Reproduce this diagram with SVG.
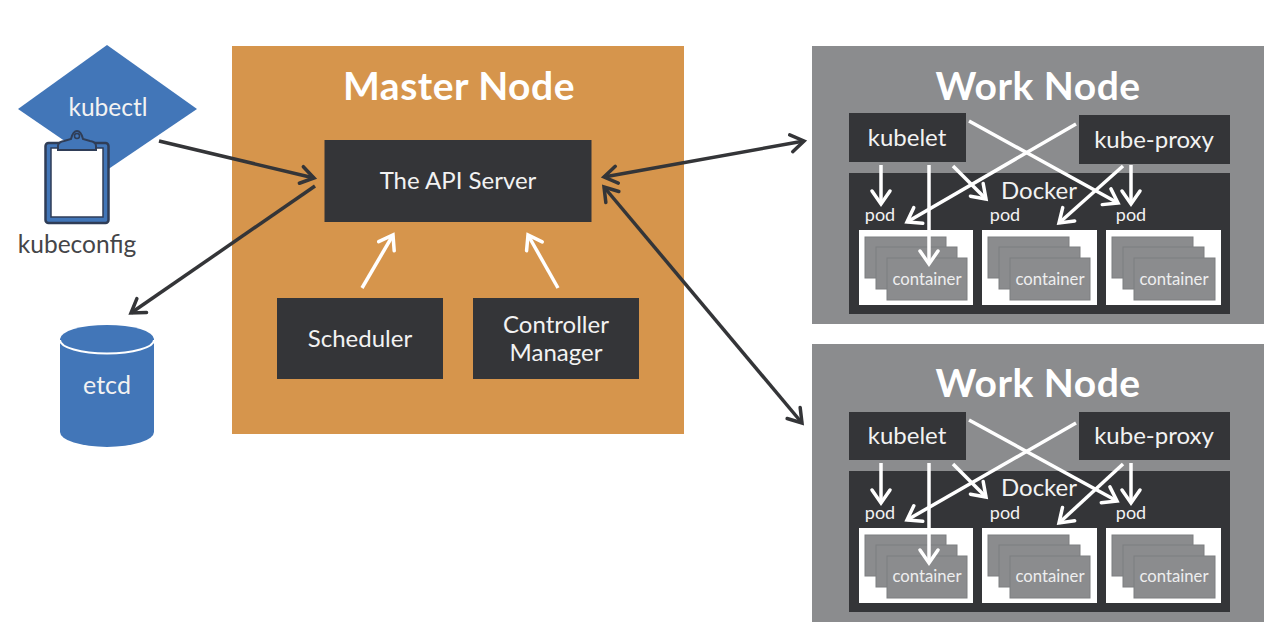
<svg xmlns="http://www.w3.org/2000/svg" width="1280" height="638" viewBox="0 0 1280 638">
<style>
text{font-family:Lato,"Open Sans","Liberation Sans",sans-serif;fill:#f2f2f2;text-anchor:middle}
.dark{fill:#343538}
.panel{fill:#8b8c8e}
.white{fill:#fff}
.c{fill:#8b8c8e;stroke:#7d7e80;stroke-width:1}
.blue{fill:#4276b8}
.title{font-weight:700;font-size:39px;letter-spacing:.5px;fill:#fff}
.lab{font-size:24px}
.w{font-size:24px}
.pod{font-size:18px}
.ct{font-size:16.700px;fill:#eee}
.ka{fill:none;stroke:#343538;stroke-width:3.500}
.wa{fill:none;stroke:#fff;stroke-width:3.500}
</style>
<defs>
<marker id="hd" markerUnits="userSpaceOnUse" markerWidth="24" markerHeight="24" refX="20" refY="12" orient="auto-start-reverse" viewBox="0 0 24 24"><path d="M7 3.500L20 12L7 20.500" fill="none" stroke="#343538" stroke-width="3.500" stroke-linecap="round"/></marker>
<marker id="hw" markerUnits="userSpaceOnUse" markerWidth="24" markerHeight="24" refX="20" refY="12" orient="auto" viewBox="0 0 24 24"><path d="M7 3L20 12L7 21" fill="none" stroke="#fff" stroke-width="3.500" stroke-linecap="round"/></marker>
</defs>
<rect width="1280" height="638" fill="#fff"/>

<g id="kubectl"><polygon class="blue" points="107,45 197,109 107,170 18,109"/><text x="108" y="116" style="font-size:24.500px">kubectl</text></g>
<g id="kubeconfig"><rect x="45.500" y="143" width="63" height="80" rx="3" class="blue" stroke="#2f3d57" stroke-width="2.500"/><rect x="51" y="148" width="52" height="69" fill="#fff" stroke="#2f3d57" stroke-width="1.500"/><path d="M58 150V146Q58 142 64 141L71 139Q73 131 77 131Q81 131 83 139L90 141Q96 142 96 146V150Z" class="blue" stroke="#2f3d57" stroke-width="2"/><circle cx="77" cy="136" r="2.500" fill="none" stroke="#2f3d57" stroke-width="1.500"/><text x="77" y="253" style="font-size:24.500px;fill:#444548">kubeconfig</text></g>
<g id="etcd"><path class="blue" d="M60 339A47 14 0 0 1 154 339V432A47 15 0 0 1 60 432Z"/><path d="M60 340A47 13.500 0 0 0 154 340" fill="none" stroke="#fff" stroke-width="2"/><text x="107" y="394" style="font-size:25px">etcd</text></g>

<g id="master-node"><rect x="232" y="46" width="452" height="388" fill="#d6954c"/><text class="title" x="459" y="100">Master Node</text></g>
<g id="api-server"><rect class="dark" x="324.500" y="140" width="267" height="82"/><text class="lab" x="458" y="189">The API Server</text></g>
<g id="scheduler"><rect class="dark" x="277" y="298" width="166" height="81"/><text class="lab" x="360" y="347">Scheduler</text></g>
<g id="controller-manager"><rect class="dark" x="473" y="298" width="166" height="81"/><text class="lab" x="556" y="333">Controller</text><text class="lab" x="556" y="361">Manager</text></g>

<g id="work-node-1"><rect class="panel" x="812" y="46" width="452" height="278"/><text class="title" x="1038" y="100">Work Node</text></g>
<g id="kubelet-1"><rect class="dark" x="849" y="113" width="117" height="49"/><text class="w" x="907" y="146">kubelet</text></g>
<g id="kube-proxy-1"><rect class="dark" x="1079" y="115" width="151" height="49"/><text class="w" x="1154" y="148">kube-proxy</text></g>
<g id="docker-1"><rect class="dark" x="849" y="173" width="381" height="141"/><text class="w" x="1039" y="199">Docker</text><text class="pod" x="880" y="221">pod</text><text class="pod" x="1005" y="221">pod</text><text class="pod" x="1131" y="221">pod</text></g>
<g id="pod-1a"><rect class="white" x="859" y="230" width="114" height="75"/><rect class="c" x="865" y="237" width="81" height="41"/><rect class="c" x="876" y="247" width="81" height="42"/><rect class="c" x="887" y="258" width="80" height="42"/><text class="ct" x="927" y="285">container</text></g>
<g id="pod-1b"><rect class="white" x="982" y="230" width="115" height="75"/><rect class="c" x="988" y="237" width="81" height="41"/><rect class="c" x="999" y="247" width="81" height="42"/><rect class="c" x="1010" y="258" width="80" height="42"/><text class="ct" x="1050" y="285">container</text></g>
<g id="pod-1c"><rect class="white" x="1106" y="230" width="115" height="75"/><rect class="c" x="1112" y="237" width="81" height="41"/><rect class="c" x="1123" y="247" width="81" height="42"/><rect class="c" x="1134" y="258" width="81" height="42"/><text class="ct" x="1174" y="285">container</text></g>

<g id="work-node-2"><rect class="panel" x="812" y="344" width="452" height="278"/><text class="title" x="1038" y="397">Work Node</text></g>
<g id="kubelet-2"><rect class="dark" x="849" y="412" width="117" height="48"/><text class="w" x="907" y="444">kubelet</text></g>
<g id="kube-proxy-2"><rect class="dark" x="1079" y="412" width="151" height="48"/><text class="w" x="1154" y="444">kube-proxy</text></g>
<g id="docker-2"><rect class="dark" x="849" y="471" width="381" height="141"/><text class="w" x="1039" y="496">Docker</text><text class="pod" x="880" y="519">pod</text><text class="pod" x="1005" y="519">pod</text><text class="pod" x="1131" y="519">pod</text></g>
<g id="pod-2a"><rect class="white" x="859" y="528" width="114" height="75"/><rect class="c" x="865" y="535" width="81" height="41"/><rect class="c" x="876" y="545" width="81" height="42"/><rect class="c" x="887" y="556" width="80" height="42"/><text class="ct" x="927" y="582">container</text></g>
<g id="pod-2b"><rect class="white" x="982" y="528" width="115" height="75"/><rect class="c" x="988" y="535" width="81" height="41"/><rect class="c" x="999" y="545" width="81" height="42"/><rect class="c" x="1010" y="556" width="80" height="42"/><text class="ct" x="1050" y="582">container</text></g>
<g id="pod-2c"><rect class="white" x="1106" y="528" width="115" height="75"/><rect class="c" x="1112" y="535" width="81" height="41"/><rect class="c" x="1123" y="545" width="81" height="42"/><rect class="c" x="1134" y="556" width="81" height="42"/><text class="ct" x="1174" y="582">container</text></g>

<g id="connectors">
<g class="ka">
<line x1="159" y1="141" x2="314" y2="178" marker-end="url(#hd)"/>
<line x1="315" y1="186" x2="131" y2="313" marker-end="url(#hd)"/>
<line x1="804" y1="141" x2="604" y2="177" marker-start="url(#hd)" marker-end="url(#hd)"/>
<line x1="802" y1="423" x2="604" y2="187" marker-start="url(#hd)" marker-end="url(#hd)"/>
</g>
<g class="wa">
<line x1="362" y1="288" x2="393" y2="235" marker-end="url(#hw)"/>
<line x1="558" y1="288" x2="528" y2="235" marker-end="url(#hw)"/>
<line x1="881" y1="165" x2="881" y2="204" marker-end="url(#hw)"/>
<line x1="929" y1="165" x2="929" y2="264" marker-end="url(#hw)"/>
<line x1="953" y1="166" x2="986" y2="199" marker-end="url(#hw)"/>
<line x1="969" y1="121" x2="1118" y2="203" marker-end="url(#hw)"/>
<line x1="1076" y1="124" x2="907" y2="222" marker-end="url(#hw)"/>
<line x1="1123" y1="166" x2="1059" y2="223" marker-end="url(#hw)"/>
<line x1="1131" y1="165" x2="1131" y2="204" marker-end="url(#hw)"/>
<line x1="881" y1="463" x2="881" y2="503" marker-end="url(#hw)"/>
<line x1="929" y1="463" x2="929" y2="563" marker-end="url(#hw)"/>
<line x1="953" y1="464" x2="986" y2="497" marker-end="url(#hw)"/>
<line x1="969" y1="420" x2="1117" y2="501" marker-end="url(#hw)"/>
<line x1="1076" y1="423" x2="907" y2="520" marker-end="url(#hw)"/>
<line x1="1123" y1="464" x2="1059" y2="523" marker-end="url(#hw)"/>
<line x1="1131" y1="463" x2="1131" y2="503" marker-end="url(#hw)"/>
</g>
</g>
</svg>
